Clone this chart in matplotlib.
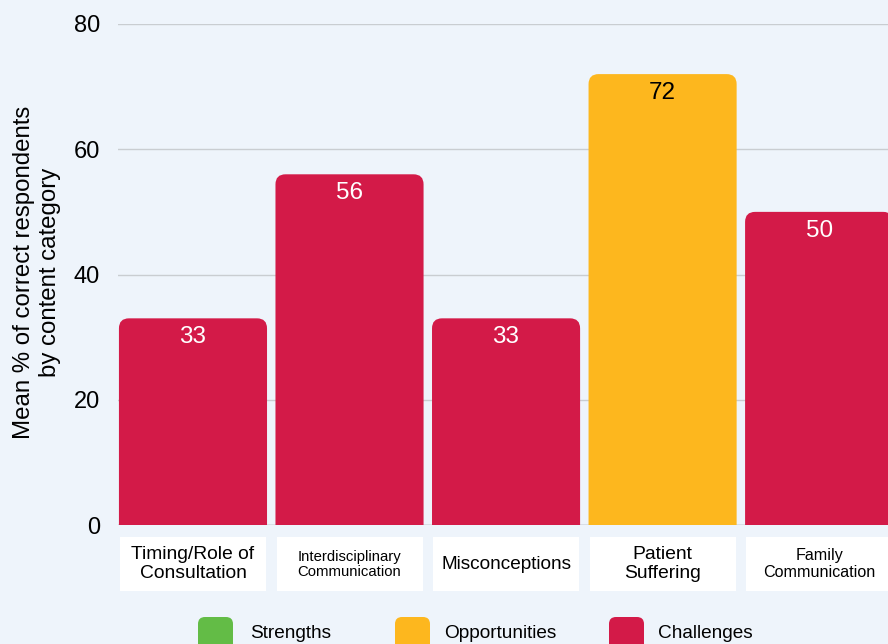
import matplotlib.pyplot as plt
from matplotlib.patches import FancyBboxPatch, Rectangle

plt.rcParams['font.family'] = ['Liberation Sans', 'DejaVu Sans']

categories = ["Timing/Role of\nConsultation", "Interdisciplinary\nCommunication",
              "Misconceptions", "Patient\nSuffering", "Family\nCommunication"]
label_sizes = [13.9, 10.7, 13.7, 13.9, 11.6]
values = [33, 56, 33, 72, 50]
groups = ["Challenges", "Challenges", "Challenges", "Opportunities", "Challenges"]

legend_names = ["Strengths", "Opportunities", "Challenges"]
colors = {"Strengths": "#63bc46", "Opportunities": "#fdb71e", "Challenges": "#d31a48"}
text_colors = {"Strengths": "white", "Opportunities": "black", "Challenges": "white"}

bg = "#eef4fb"
fig = plt.figure(figsize=(8.88, 6.44), dpi=100, facecolor=bg)
ax = fig.add_axes([118 / 888, 119 / 644, 770 / 888, 501 / 644])
ax.set_facecolor(bg)

width = 0.946
rx, ry = 0.064, 1.6
for i, (v, g) in enumerate(zip(values, groups)):
    box = FancyBboxPatch((i - width / 2, -5), width, v + 5,
                         boxstyle="round,pad=0,rounding_size=%f" % rx,
                         mutation_aspect=ry / rx,
                         facecolor=colors[g], edgecolor="none", zorder=3)
    ax.add_patch(box)
    ax.annotate(str(v), (i, v), xytext=(0, -13.5), textcoords="offset points",
                ha="center", va="center", fontsize=17.5, color=text_colors[g], zorder=4)

    # category label box under the axis
    ax.add_patch(Rectangle((i - 0.466, -0.1317), 0.933, 0.1077,
                           transform=ax.get_xaxis_transform(), facecolor="white",
                           edgecolor="none", clip_on=False))
    ax.text(i, -0.078, categories[i], transform=ax.get_xaxis_transform(),
            ha="center", va="center", fontsize=label_sizes[i], linespacing=1.1)

ax.set_xlim(-0.479, 4.44)
ax.set_ylim(0, 80)
ax.set_yticks([0, 20, 40, 60, 80])
ax.tick_params(axis='y', length=0, labelsize=17, pad=13)
ax.set_xticks([])
ax.grid(axis='y', color="#c9cdd1", linewidth=1, zorder=0)
ax.axhline(0, color="#9aa0a6", linewidth=1, zorder=1)
for s in ax.spines.values():
    s.set_visible(False)

fig.text(37 / 888, 1 - 272 / 644, "Mean % of correct respondents\nby content category",
         rotation=90, ha="center", va="center", fontsize=17.3, linespacing=1.25)

# legend drawn on an overlay in pixel units
lay = fig.add_axes([0, 0, 1, 1])
lay.set_xlim(0, 888)
lay.set_ylim(644, 0)
lay.axis("off")
lay.patch.set_alpha(0)
sq_x = [198, 395, 609]
txt_x = [250, 444, 658]
for name, sx, tx in zip(legend_names, sq_x, txt_x):
    lay.add_patch(FancyBboxPatch((sx, 617), 35, 35,
                                 boxstyle="round,pad=0,rounding_size=7",
                                 facecolor=colors[name], edgecolor="none"))
    lay.text(tx, 633, name, ha="left", va="center", fontsize=13.7)

plt.savefig("out.png", dpi=100, facecolor=bg)
